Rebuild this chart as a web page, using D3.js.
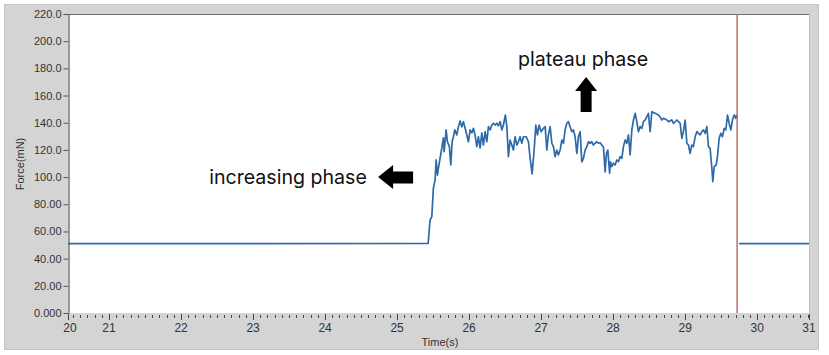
<!DOCTYPE html>
<html><head><meta charset="utf-8">
<script src="https://cdn.jsdelivr.net/npm/d3@7"></script>
<style>
html,body{margin:0;padding:0;background:#fff;}
svg{display:block;}
</style></head>
<body>
<svg id="chart" width="829" height="355"></svg>
<script>
// ---------- data ----------
const xTickValues = [20.43, 21, 22, 23, 24, 25, 26, 27, 28, 29, 30, 30.72];
const xTickLabels = ["20","21","22","23","24","25","26","27","28","29","30","31"];
const yTickValues = [0, 20, 40, 60, 80, 100, 120, 140, 160, 180, 200, 220];
const yTickLabels = ["0.000","20.00","40.00","60.00","80.00","100.0","120.0","140.0","160.0","180.0","200.0","220.0"];

// time (s) of each sample of the force trace (null value = gap at the sweep cursor)
const timeS = [20.43, 25.431, 25.458, 25.482, 25.504, 25.528, 25.542, 25.560, 25.574, 25.621, 25.643,
 25.653, 25.681, 25.699, 25.726, 25.746, 25.764, 25.782, 25.801, 25.829, 25.851,
 25.875, 25.899, 25.921, 25.944, 25.968, 25.990, 26.014, 26.038, 26.060, 26.083,
 26.107, 26.129, 26.153, 26.176, 26.199, 26.222, 26.246, 26.268, 26.292, 26.315,
 26.338, 26.361, 26.385, 26.407, 26.431, 26.454, 26.476, 26.504, 26.524, 26.546,
 26.569, 26.593, 26.615, 26.639, 26.663, 26.685, 26.708, 26.732, 26.754, 26.792,
 26.824, 26.847, 26.875, 26.903, 26.926, 26.949, 26.972, 27.000, 27.032, 27.056,
 27.079, 27.101, 27.125, 27.149, 27.171, 27.194, 27.218, 27.240, 27.264, 27.288,
 27.310, 27.333, 27.357, 27.379, 27.403, 27.426, 27.449, 27.472, 27.496, 27.518,
 27.542, 27.565, 27.588, 27.611, 27.635, 27.657, 27.681, 27.704, 27.726, 27.750,
 27.774, 27.796, 27.819, 27.843, 27.865, 27.889, 27.907, 27.926, 27.951, 27.963,
 27.982, 28.004, 28.028, 28.051, 28.074, 28.097, 28.121, 28.143, 28.167, 28.190,
 28.213, 28.236, 28.260, 28.282, 28.306, 28.329, 28.351, 28.375, 28.399, 28.421,
 28.444, 28.468, 28.490, 28.514, 28.538, 28.583, 28.629, 28.653, 28.676, 28.699,
 28.746, 28.768, 28.815, 28.838, 28.885, 28.907, 28.931, 28.954, 28.976, 29.000,
 29.024, 29.046, 29.069, 29.093, 29.115, 29.139, 29.163, 29.185, 29.208, 29.232,
 29.254, 29.278, 29.301, 29.324, 29.347, 29.371, 29.385, 29.403, 29.431, 29.449,
 29.472, 29.496, 29.518, 29.542, 29.565, 29.588, 29.611, 29.635, 29.657, 29.681,
 29.704, 29.718, 29.735, 29.750, 30.72];
const forceMN = [51.0, 51.2, 68.4, 70.9, 92.0, 97.9, 112.6, 101.5, 106.7, 121.4, 128.8,
 118.7, 134.7, 126.0, 122.4, 108.9, 126.0, 129.7, 134.7, 131.0, 137.1,
 141.3, 136.9, 140.8, 136.1, 131.0, 126.0, 134.7, 132.5, 135.9, 131.0,
 122.4, 129.7, 121.4, 132.5, 123.6, 133.4, 126.0, 137.1, 134.7, 138.3,
 139.6, 138.3, 139.6, 137.8, 140.8, 134.7, 138.3, 145.7, 137.1, 115.0,
 127.3, 123.6, 119.9, 129.7, 123.6, 126.0, 129.7, 124.9, 129.7, 129.7,
 126.0, 114.1, 102.3, 119.9, 138.3, 131.0, 138.3, 133.4, 135.9, 137.1,
 119.9, 131.0, 137.1, 124.9, 122.4, 115.0, 119.9, 116.3, 119.9, 127.3,
 124.9, 134.7, 139.6, 140.8, 137.1, 133.4, 134.7, 129.7, 117.5, 129.7,
 133.4, 111.1, 113.8, 119.9, 122.4, 126.0, 124.9, 126.0, 123.6, 124.9,
 126.0, 124.9, 125.3, 123.6, 122.1, 103.8, 117.5, 119.9, 102.8, 111.3,
 107.7, 110.2, 108.9, 112.6, 111.3, 115.0, 113.8, 122.4, 127.3, 124.9,
 131.0, 116.3, 134.7, 142.0, 146.9, 140.8, 133.4, 137.1, 135.9, 140.8,
 142.0, 144.4, 146.9, 133.4, 148.1, 146.9, 145.7, 144.2, 142.0, 143.3,
 142.0, 140.8, 142.0, 139.6, 142.0, 140.8, 139.6, 128.5, 133.4, 142.0,
 124.9, 123.6, 117.5, 123.6, 122.4, 129.7, 133.4, 132.2, 131.0, 133.4,
 134.7, 132.2, 137.1, 122.4, 121.2, 106.5, 96.6, 107.7, 108.9, 115.0,
 128.5, 132.2, 129.7, 135.9, 134.7, 145.7, 139.6, 134.7, 142.0, 145.7,
 143.3, 145.7, null, 51.0, 51.0];

const cursorTime = 29.722;
const xTitle = "Time(s)";
const yTitle = "Force(mN)";
const annotations = [
  {text: "plateau phase", t: 26.68, v: 181.7},
  {text: "increasing phase", t: 22.39, v: 95.0}
];
const arrowUp = {t: 27.625, v: 173.7};
const arrowLeft = {t: 24.736, v: 100.1};

// ---------- layout ----------
const svg = d3.select("#chart");
const W = 829, H = 355;
const plot = {left: 68, right: 809, top: 14, bottom: 313};

const x = d3.scaleLinear().domain([20.43, 30.72]).range([plot.left, plot.right]);
const y = d3.scaleLinear().domain([0, 220]).range([plot.bottom, plot.top]);

// panel
svg.append("rect").attr("x", 0).attr("y", 0).attr("width", W).attr("height", H).attr("fill", "#ffffff");
svg.append("rect").attr("x", 4.5).attr("y", 4.5).attr("width", 814).attr("height", 345)
  .attr("fill", "#d4d4d4").attr("stroke", "#c4c4c4").attr("stroke-width", 1);
svg.append("rect").attr("x", plot.left).attr("y", plot.top)
  .attr("width", plot.right - plot.left).attr("height", plot.bottom - plot.top)
  .attr("fill", "#ffffff");
// plot borders
svg.append("line").attr("x1", plot.left).attr("x2", plot.right).attr("y1", plot.top + 0.5).attr("y2", plot.top + 0.5)
  .attr("stroke", "#6e6e6e").attr("stroke-width", 1);
svg.append("line").attr("x1", plot.right + 0.5).attr("x2", plot.right + 0.5).attr("y1", plot.top).attr("y2", plot.bottom)
  .attr("stroke", "#bdbdbd").attr("stroke-width", 1);

// y axis
const yAxis = d3.axisLeft(y).tickValues(yTickValues)
  .tickFormat((d, i) => yTickLabels[i]).tickSize(5).tickSizeOuter(0).tickPadding(2);
const gy = svg.append("g").attr("transform", `translate(${plot.left + 0.5},0)`).call(yAxis);
gy.select(".domain").attr("stroke", "#555").attr("stroke-width", 1.2);
gy.selectAll(".tick line").attr("stroke", "#555");
gy.selectAll(".tick text").attr("font-family", "'Liberation Sans', Arial, sans-serif")
  .attr("font-size", 11).attr("fill", "#333");

// x axis minor ticks
const minorTicks = d3.range(205, 308).map(k => k / 10);
svg.append("g").selectAll("line").data(minorTicks).join("line")
  .attr("x1", d => Math.round(x(d)) + 0.5).attr("x2", d => Math.round(x(d)) + 0.5)
  .attr("y1", plot.bottom + 2).attr("y2", plot.bottom + 5)
  .attr("stroke", "#444").attr("stroke-width", 1);
// major ticks & labels
const gx = svg.append("g");
gx.selectAll("line").data(xTickValues).join("line")
  .attr("x1", d => Math.round(x(d)) + 0.5).attr("x2", d => Math.round(x(d)) + 0.5)
  .attr("y1", plot.bottom + 1).attr("y2", plot.bottom + 7)
  .attr("stroke", "#444").attr("stroke-width", 1);
gx.selectAll("text").data(xTickValues).join("text")
  .attr("x", (d, i) => x(d) + (i === 0 ? 2 : 0)).attr("y", plot.bottom + 19)
  .attr("text-anchor", "middle")
  .attr("font-family", "'Liberation Sans', Arial, sans-serif").attr("font-size", 12)
  .attr("fill", "#333").text((d, i) => xTickLabels[i]);

// axis titles
svg.append("text").attr("x", 440).attr("y", 346).attr("text-anchor", "middle")
  .attr("font-family", "'Liberation Sans', Arial, sans-serif").attr("font-size", 11)
  .attr("fill", "#333").text(xTitle);
svg.append("text").attr("transform", "translate(24,164) rotate(-90)").attr("text-anchor", "middle")
  .attr("font-family", "'Liberation Sans', Arial, sans-serif").attr("font-size", 11)
  .attr("fill", "#333").text(yTitle);

// force trace
const pts = timeS.map((t, i) => ({t, v: forceMN[i]}));
const line = d3.line().defined(d => d.v !== null).x(d => x(d.t)).y(d => y(d.v));
svg.append("path").datum(pts).attr("d", line)
  .attr("fill", "none").attr("stroke", "#2e6aa8").attr("stroke-width", 1.7)
  .attr("stroke-linejoin", "round");

// sweep cursor
svg.append("line").attr("x1", x(cursorTime)).attr("x2", x(cursorTime))
  .attr("y1", plot.top).attr("y2", plot.bottom)
  .attr("stroke", "#b5645e").attr("stroke-width", 1.4);

// annotations
svg.selectAll("text.ann").data(annotations).join("text").attr("class", "ann")
  .attr("x", d => x(d.t)).attr("y", d => y(d.v))
  .attr("font-family", "Inter, 'Liberation Sans', Arial, sans-serif").attr("font-size", 19.6)
  .attr("fill", "#111").text(d => d.text);

// arrows (shape in px, anchored at data positions)
const ux = x(arrowUp.t), uy = y(arrowUp.v);
svg.append("path").attr("fill", "#000")
  .attr("d", `M${ux},${uy} L${ux + 11},${uy + 14} L${ux + 5.5},${uy + 14} L${ux + 5.5},${uy + 35} L${ux - 5.5},${uy + 35} L${ux - 5.5},${uy + 14} L${ux - 11},${uy + 14} Z`);
const lx = x(arrowLeft.t), ly = y(arrowLeft.v);
svg.append("path").attr("fill", "#000")
  .attr("d", `M${lx},${ly} L${lx + 15},${ly - 12} L${lx + 15},${ly - 5.5} L${lx + 35},${ly - 5.5} L${lx + 35},${ly + 6.5} L${lx + 15},${ly + 6.5} L${lx + 15},${ly + 12} Z`);
</script>
</body></html>
